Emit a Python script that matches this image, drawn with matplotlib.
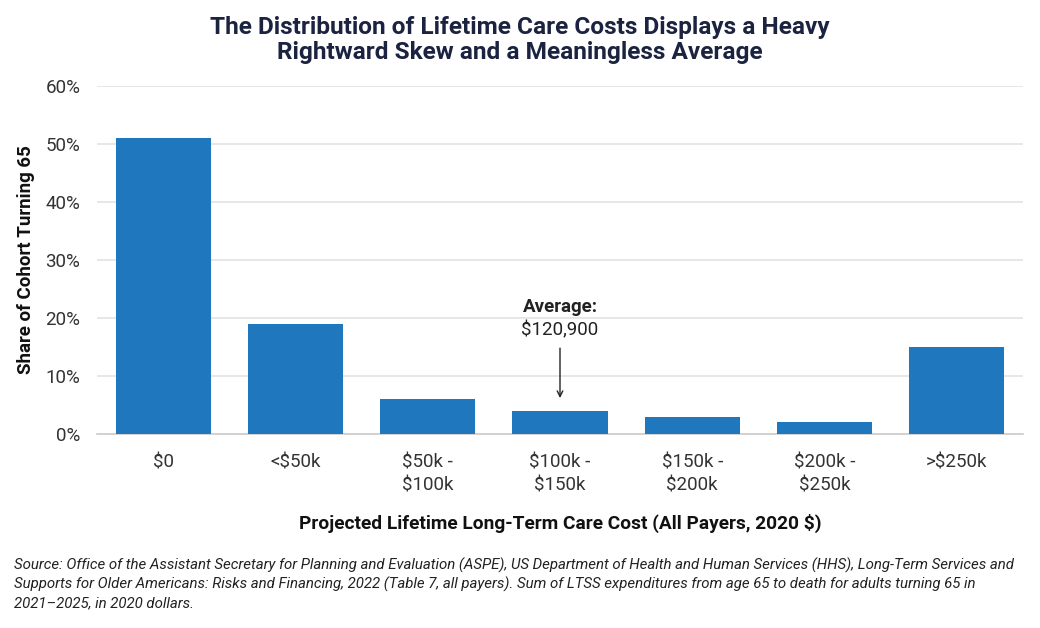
import matplotlib
matplotlib.use("Agg")
import matplotlib.pyplot as plt
from matplotlib.ticker import FuncFormatter

categories = ["$0", "<$50k", "$50k -\n$100k", "$100k -\n$150k", "$150k -\n$200k", "$200k -\n$250k", ">$250k"]
shares = [51, 19, 6, 4, 3, 2, 15]
y_ticks = [0, 10, 20, 30, 40, 50, 60]
avg_label_bold = "Average:"
avg_label_value = "$120,900"
avg_bin_index = 3

title = "The Distribution of Lifetime Care Costs Displays a Heavy\nRightward Skew and a Meaningless Average"
xlabel = "Projected Lifetime Long-Term Care Cost (All Payers, 2020 $)"
ylabel = "Share of Cohort Turning 65"
source = ("Source: Office of the Assistant Secretary for Planning and Evaluation (ASPE), US Department of Health and Human Services (HHS), Long-Term Services and\n"
          "Supports for Older Americans: Risks and Financing, 2022 (Table 7, all payers). Sum of LTSS expenditures from age 65 to death for adults turning 65 in\n"
          "2021\u20132025, in 2020 dollars.")

plt.rcParams['font.family'] = ['Roboto', 'DejaVu Sans']

fig = plt.figure(figsize=(10.4, 6.28), dpi=100)
ax = fig.add_axes([97/1040, 1-434/628, (1023-97)/1040, 348/628])

bar_color = "#1f77bd"
x = list(range(len(categories)))
ax.bar(x, shares, width=0.72, color=bar_color, zorder=3)

ax.set_xlim(-0.5, len(categories) - 0.5)
ax.set_ylim(0, 60)
ax.set_yticks(y_ticks)
ax.yaxis.set_major_formatter(FuncFormatter(lambda v, p: f"{v:.0f}%"))
ax.grid(axis='y', color="#e3e3e3", linewidth=1.2, zorder=0)
ax.set_axisbelow(True)
for s in ["top", "right", "left"]:
    ax.spines[s].set_visible(False)
ax.spines["bottom"].set_color("#cccccc")
ax.spines["bottom"].set_linewidth(1.2)
ax.tick_params(axis='both', length=0, labelsize=13.5, colors="#333333")
ax.tick_params(axis='x', pad=14)
ax.tick_params(axis='y', pad=12)
ax.set_xticks(x)
ax.set_xticklabels(categories, linespacing=1.35)

ax.set_ylabel(ylabel, fontsize=13.5, fontweight='bold', color="#111111")
ax.yaxis.set_label_coords(-0.067, 0.5)
ax.set_xlabel(xlabel, fontsize=13.8, fontweight='bold', color="#111111", labelpad=14)

# annotation
ax.annotate("", xy=(avg_bin_index, shares[avg_bin_index] + 2.2), xytext=(avg_bin_index, 14.8),
            arrowprops=dict(arrowstyle="->", color="#222222", lw=1.0, shrinkA=0, shrinkB=0), zorder=5)
ax.text(avg_bin_index, 16.3, avg_label_value, ha='center', va='bottom', fontsize=13.5, color="#222222", zorder=5,
        bbox=dict(facecolor='white', edgecolor='none', pad=0.5))
ax.text(avg_bin_index, 20.3, avg_label_bold, ha='center', va='bottom', fontsize=13.5, fontweight='bold', color="#222222", zorder=5)

fig.text(0.5, 1-40/628, title, ha='center', va='center', fontsize=17.6, fontweight='bold', color="#1b2340", linespacing=1.15)

fig.text(14/1040, 1-584/628, source, ha='left', va='center', fontsize=10.8, style='italic', color="#222222", linespacing=1.38)

fig.savefig("out.png", dpi=100)
